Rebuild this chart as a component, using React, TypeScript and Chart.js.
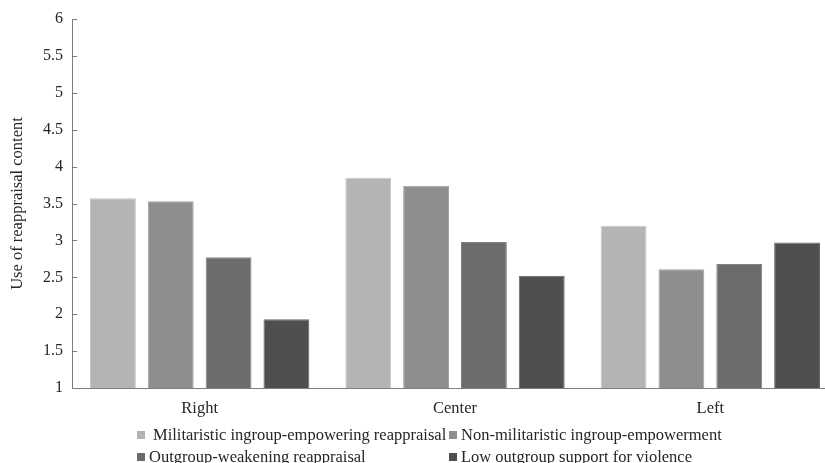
import React, { useEffect, useRef } from "react";
import { Chart, registerables } from "chart.js";

Chart.register(...registerables);

const categories = ["Right", "Center", "Left"];
const seriesNames = [
  "Militaristic ingroup-empowering reappraisal",
  "Non-militaristic ingroup-empowerment",
  "Outgroup-weakening reappraisal",
  "Low outgroup support for violence",
];
const militaristic = [3.57, 3.85, 3.2];
const nonMilitaristic = [3.53, 3.74, 2.61];
const outgroupWeakening = [2.77, 2.98, 2.68];
const lowSupport = [1.93, 2.52, 2.97];
const yMin = 1;
const yMax = 6;
const yStep = 0.5;
const yTitle = "Use of reappraisal content";

const fills = ["#b4b4b4", "#8e8e8e", "#6c6c6c", "#4f4f4f"];
const borders = ["#c6c6c6", "#a2a2a2", "#828282", "#676767"];
const FONT = "'Liberation Serif', 'Times New Roman', serif";
const TEXT = "#262626";
const AXIS = "#7c7c7c";

const innerTicks = {
  id: "innerTicks",
  afterDraw(chart: any) {
    const { ctx, chartArea, scales } = chart;
    const y = scales.y;
    ctx.save();
    ctx.strokeStyle = AXIS;
    ctx.lineWidth = 1;
    y.ticks.forEach((t: any) => {
      const py = Math.round(y.getPixelForValue(t.value)) + 0.5;
      ctx.beginPath();
      ctx.moveTo(chartArea.left, py);
      ctx.lineTo(chartArea.left + 5, py);
      ctx.stroke();
    });
    ctx.restore();
  },
};

const gridLegend = {
  id: "gridLegend",
  afterDraw(chart: any) {
    const { ctx } = chart;
    const cols = [137, 449];
    const rows = [435, 457];
    ctx.save();
    ctx.font = `16.5px ${FONT}`;
    ctx.textBaseline = "middle";
    ctx.textAlign = "left";
    chart.data.datasets.forEach((ds: any, i: number) => {
      const cx = cols[i % 2];
      const cy = rows[Math.floor(i / 2)];
      ctx.fillStyle = ds.backgroundColor;
      ctx.fillRect(cx, cy - 4, 8, 8);
      ctx.fillStyle = TEXT;
      const tx = i === 0 ? cx + 16 : cx + 12;
      ctx.fillText(ds.label, tx, cy + 1);
    });
    ctx.restore();
  },
};

export default function App() {
  const ref = useRef<HTMLCanvasElement | null>(null);
  useEffect(() => {
    if (!ref.current) return;
    const values = [militaristic, nonMilitaristic, outgroupWeakening, lowSupport];
    const chart = new Chart(ref.current, {
      type: "bar",
      data: {
        labels: categories,
        datasets: values.map((v, i) => ({
          label: seriesNames[i],
          data: v,
          backgroundColor: fills[i],
          borderColor: borders[i],
          borderWidth: 1,
          barPercentage: 0.793,
          categoryPercentage: 0.906,
        })),
      },
      options: {
        animation: false,
        responsive: false,
        devicePixelRatio: 1,
        layout: { padding: { top: 19, right: 2, left: 0, bottom: 0 } },
        plugins: { legend: { display: false }, tooltip: { enabled: false } },
        scales: {
          x: {
            grid: { display: false, drawTicks: false },
            border: { display: true, color: AXIS, width: 1 },
            ticks: { color: TEXT, font: { family: FONT, size: 16.5 }, padding: 11 },
            afterFit: (s: any) => {
              s.height = 75;
            },
          },
          y: {
            min: yMin,
            max: yMax,
            grid: { display: false, drawTicks: false },
            border: { display: true, color: AXIS, width: 1 },
            ticks: {
              stepSize: yStep,
              color: TEXT,
              font: { family: FONT, size: 16 },
              padding: 9,
              callback: (v: any) => String(Number(v)),
            },
            title: {
              display: true,
              text: yTitle,
              color: TEXT,
              font: { family: FONT, size: 16.5 },
              padding: { top: 8, bottom: 0 },
            },
            afterFit: (s: any) => {
              s.width = 72;
            },
          },
        },
      },
      plugins: [innerTicks, gridLegend],
    });
    return () => chart.destroy();
  }, []);
  return (
    <div
      style={{
        position: "absolute",
        left: 0,
        top: 0,
        width: 825,
        height: 463,
        overflow: "hidden",
        background: "#fff",
      }}
    >
      <canvas ref={ref} width={840} height={463} style={{ display: "block" }} />
    </div>
  );
}
